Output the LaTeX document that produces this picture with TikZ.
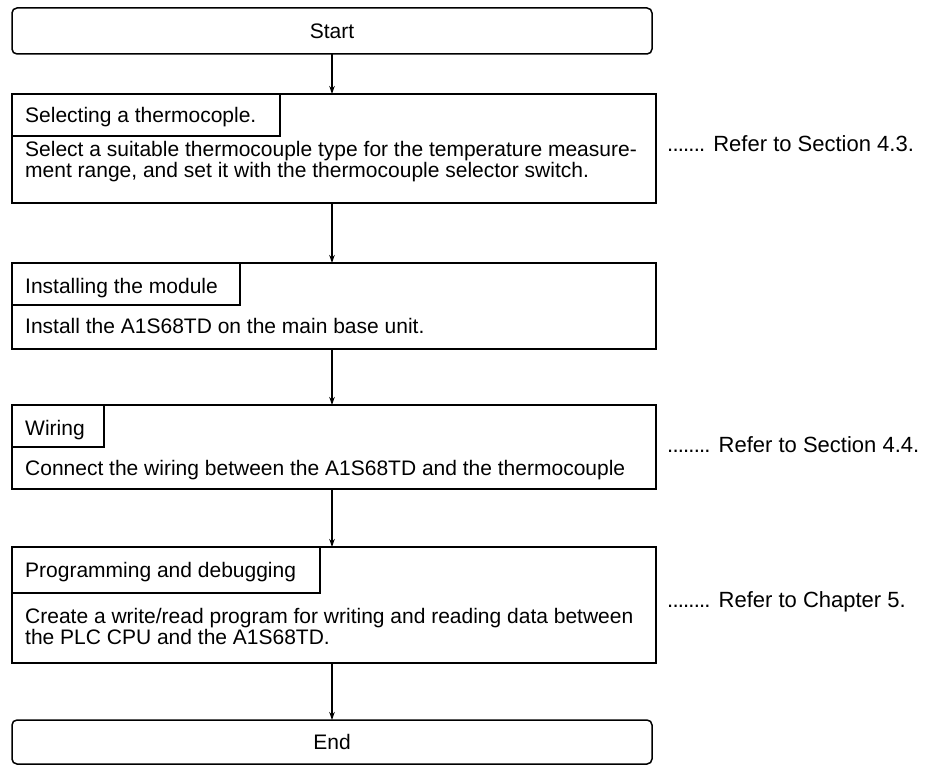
\documentclass[tikz,border=0pt]{standalone}
\usepackage{fontspec}
\setmainfont{Liberation Sans}
\usetikzlibrary{arrows.meta}
\newcommand\dd{.\kern-0.8pt}
\begin{document}
\begin{tikzpicture}[x=1pt,y=-1pt,
  box/.style={draw,line width=1.5pt,rectangle,inner sep=0pt,outer sep=0pt},
  term/.style={box,rounded corners=5pt,font=\fontsize{21}{21}\selectfont},
  tab/.style={box,anchor=north west},
  txt/.style={font=\fontsize{21}{21}\selectfont,inner sep=0pt,anchor=base west},
  ref/.style={font=\fontsize{22}{22}\selectfont,inner sep=0pt,anchor=base west},
  arr/.style={line width=1.1pt,-{Stealth[length=8pt,width=5.5pt]}}]
\useasboundingbox (0,0) rectangle (927,765);
\fill[white] (0,0) rectangle (927,765);

% terminals
\node[term,minimum width=640pt,minimum height=46pt] (start) at (332,31) {Start};
\node[term,minimum width=640pt,minimum height=44pt] (end) at (332,742) {End};

% step 1
\node[box,minimum width=644pt,minimum height=109pt] (b1) at (334,148.5) {};
\node[tab,minimum width=268pt,minimum height=42pt] (t1) at (b1.north west) {};
\node[txt] (t1txt) at (25,123) {Selecting a thermocople.};
\node[txt] (b1l1) at (25,157) {Select a suitable thermocouple type for the temperature measure-};
\node[txt] (b1l2) at (25,178) {ment range, and set it with the thermocouple selector switch.};
\node[ref] (r1) at (667,152) {\dd\dd\dd\dd\dd\dd. Refer to Section 4.3.};

% step 2
\node[box,minimum width=644pt,minimum height=86pt] (b2) at (334,306) {};
\node[tab,minimum width=228pt,minimum height=42pt] (t2) at (b2.north west) {};
\node[txt] (t2txt) at (25,293) {Installing the module};
\node[txt] (b2l1) at (25,333) {Install the A1S68TD on the main base unit.};

% step 3
\node[box,minimum width=644pt,minimum height=84pt] (b3) at (334,447) {};
\node[tab,minimum width=92pt,minimum height=42pt] (t3) at (b3.north west) {};
\node[txt] (t3txt) at (25,435) {Wiring};
\node[txt] (b3l1) at (25,475) {Connect the wiring between the A1S68TD and the thermocouple};
\node[ref] (r3) at (667,452) {\dd\dd\dd\dd\dd\dd\dd. Refer to Section 4.4.};

% step 4
\node[box,minimum width=644pt,minimum height=116pt] (b4) at (334,605) {};
\node[tab,minimum width=308pt,minimum height=46pt] (t4) at (b4.north west) {};
\node[txt] (t4txt) at (25,577) {Programming and debugging};
\node[txt] (b4l1) at (25,623) {Create a write/read program for writing and reading data between};
\node[txt] (b4l2) at (25,644) {the PLC CPU and the A1S68TD.};
\node[ref] (r4) at (667,607) {\dd\dd\dd\dd\dd\dd\dd. Refer to Chapter 5.};

% connectors
\draw[arr] (start.south) -- (start.south |- b1.north);
\draw[arr] (b1.south -| start.south) -- (b2.north -| start.south);
\draw[arr] (b2.south -| start.south) -- (b3.north -| start.south);
\draw[arr] (b3.south -| start.south) -- (b4.north -| start.south);
\draw[arr] (b4.south -| start.south) -- (end.north);
\end{tikzpicture}
\end{document}
